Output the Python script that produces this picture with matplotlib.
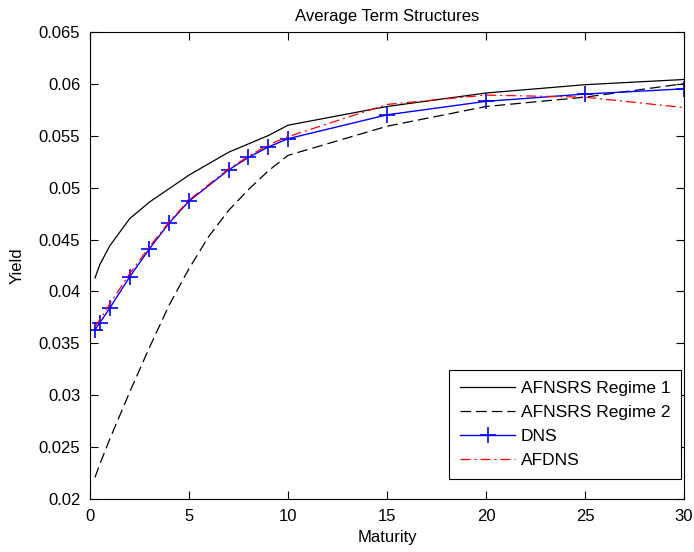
import numpy as np
import matplotlib
matplotlib.use('Agg')
import matplotlib.pyplot as plt

plt.rcParams['font.family'] = ['Liberation Sans', 'DejaVu Sans']
plt.rcParams['font.size'] = 12

#maturities (years)
matAll = [0.25, 0.5, 1, 2, 3, 4, 5, 6, 7, 8, 9, 10, 15, 20, 25, 30]
matDNS = [0.25, 0.5, 1, 2, 3, 4, 5, 7, 8, 9, 10, 15, 20, 25, 30]

#average yields
regime1 = [0.0413, 0.0426, 0.0444, 0.0470, 0.0486, 0.0499, 0.0512, 0.0523,
           0.0534, 0.0542, 0.0550, 0.0560, 0.0578, 0.0591, 0.0599, 0.0604]
regime2 = [0.0221, 0.0234, 0.0258, 0.0303, 0.0346, 0.0387, 0.0422, 0.0453,
           0.0478, 0.0498, 0.0516, 0.0531, 0.0559, 0.0578, 0.0587, 0.0600]
dns = [0.0363, 0.0370, 0.0384, 0.0414, 0.0441, 0.0466, 0.0487, 0.0517,
       0.0529, 0.0539, 0.0547, 0.0570, 0.0583, 0.0590, 0.0595]
afdns = [0.0366, 0.0373, 0.0388, 0.0417, 0.0443, 0.0467, 0.0488, 0.0518,
         0.0530, 0.0541, 0.0549, 0.0580, 0.0589, 0.0587, 0.0577]

xTicks = [0, 5, 10, 15, 20, 25, 30]
yTicks = [0.02, 0.025, 0.03, 0.035, 0.04, 0.045, 0.05, 0.055, 0.06, 0.065]
yTickLabels = ['0.02', '0.025', '0.03', '0.035', '0.04', '0.045', '0.05',
               '0.055', '0.06', '0.065']

fig = plt.figure(figsize=(6.94, 5.52), dpi=100)
ax = fig.add_axes([90/694, 1 - 499.3/552, 594/694, 467.6/552])

ax.plot(matAll, regime1, color='black', lw=0.9, label='AFNSRS Regime 1')
ax.plot(matAll, regime2, color='black', lw=0.9, dashes=(8.5, 4),
        label='AFNSRS Regime 2')
ax.plot(matDNS, dns, color='blue', lw=1.0, marker='+', ms=11, mew=1.2,
        label='DNS')
ax.plot(matDNS, afdns, color='red', lw=0.9, dashes=(8, 3.2, 1.6, 3.2),
        label='AFDNS')

ax.set_xlim(0, 30)
ax.set_ylim(0.02, 0.065)
ax.set_xticks(xTicks)
ax.set_yticks(yTicks)
ax.set_yticklabels(yTickLabels)
ax.tick_params(direction='in', top=True, right=True, length=6, width=0.8,
               labelsize=12)
ax.tick_params(axis='y', pad=7)
ax.tick_params(axis='x', pad=7)
for s in ax.spines.values():
    s.set_linewidth(0.8)

ax.set_xlabel('Maturity', labelpad=4)
ax.set_ylabel('Yield', labelpad=10)
ax.set_title('Average Term Structures', fontsize=12, pad=8)

leg = ax.legend(loc='lower right', bbox_to_anchor=(0.995, 0.043),
                borderaxespad=0, fancybox=False, edgecolor='black',
                framealpha=1, handlelength=3.2, labelspacing=0.52,
                fontsize=12.5, borderpad=0.62, handletextpad=0.3)
leg.get_frame().set_linewidth(0.8)

fig.savefig('out.png', dpi=100)
